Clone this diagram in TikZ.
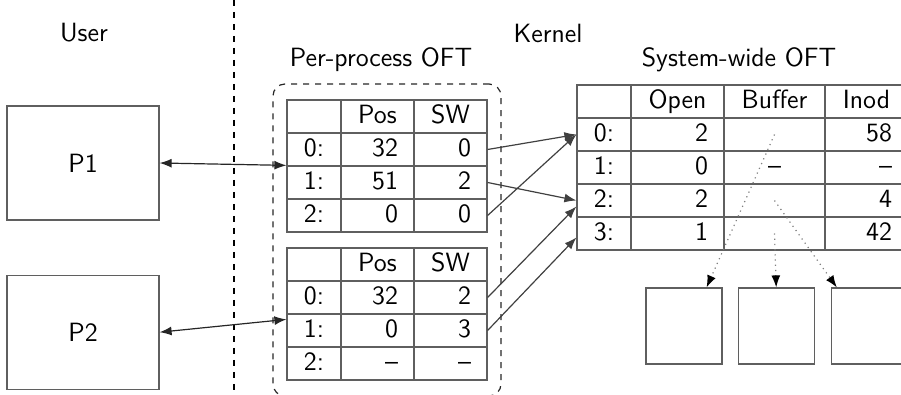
\documentclass[tikz,border=0pt]{standalone}
\usepackage{tikz}
\usetikzlibrary{arrows.meta,positioning,fit,matrix}
\definecolor{linegray}{RGB}{95,95,95}

\begin{document}
\begin{tikzpicture}[x=0.5pt, y=-0.5pt, font=\sffamily\fontsize{13.2}{16}\selectfont,
  oft/.style={matrix of nodes, nodes in empty cells, inner sep=0pt,
    column sep=-0.6pt, row sep=-0.6pt,
    nodes={draw=linegray, line width=0.6pt, minimum height=16.5pt, inner xsep=8pt,
      inner ysep=0pt, text height=9.3pt, text depth=2.7pt, align=right},
    column 1/.style={nodes={text width=11pt, align=center}},
    row 1/.style={nodes={align=center}}},
  proc/.style={draw=linegray, line width=0.6pt, minimum width=76pt, minimum height=57pt},
  bufbox/.style={draw=linegray, line width=0.6pt, minimum size=38pt},
  biarr/.style={{Latex[length=6pt,width=4.5pt]}-{Latex[length=6pt,width=4.5pt]}, draw=black!85, semithick},
  farr/.style={-{Latex[length=6pt,width=4.5pt]}, draw=black!75, semithick},
  barr/.style={-{Latex[length=6pt,width=4.5pt,color=black]}, draw=gray, dotted, semithick}
]
\useasboundingbox (0,0) rectangle (901,395);
\clip (0,0) rectangle (901,395);

% user / kernel split
\draw[dashed, semithick] (234,0) -- (234,395);
\node (user) at (84,33) {User};
\node (kernel) at (548,33) {Kernel};

% processes
\node[proc] (P1) at (83,163) {P1};
\node[proc, below=27pt of P1] (P2) {P2};

% per-process tables
\matrix[oft, anchor=north west,
  column 2/.style={nodes={text width=20.5pt}},
  column 3/.style={nodes={text width=20.5pt}}] (ppA) at (286,99) {
     & Pos & SW \\
  0: & 32  & 0  \\
  1: & 51  & 2  \\
  2: & 0   & 0  \\
};
\matrix[oft, anchor=north west,
  column 2/.style={nodes={text width=20.5pt}},
  column 3/.style={nodes={text width=20.5pt}}] (ppB) at (286,247) {
     & Pos & SW \\
  0: & 32  & 2  \\
  1: & 0   & 3  \\
  2: & --  & -- \\
};
\node[fit=(ppA)(ppB), draw=black!85, dashed, semithick, rounded corners=6pt,
  inner xsep=6.5pt, inner ysep=7.5pt] (pp) {};
\node (pplabel) at (381,60) {Per-process OFT};

% system-wide table
\matrix[oft, anchor=north west,
  column 2/.style={nodes={text width=30.5pt}},
  column 3/.style={nodes={text width=34.5pt, align=center}},
  column 4/.style={nodes={text width=25.5pt}}] (sys) at (576,84) {
     & Open & Buffer & Inod \\
  0: & 2    &        & 58   \\
  1: & 0    & --     & --   \\
  2: & 2    &        & 4    \\
  3: & 1    &        & 42   \\
};
\node (swlabel) at (739,60) {System-wide OFT};

% buffers
\node[bufbox] (bx1) at (684,326) {};
\node[bufbox, right=7.5pt of bx1] (bx2) {};
\node[bufbox, right=8pt of bx2] (bx3) {};

% process <-> descriptor table
\draw[biarr] (P1.east) -- (ppA-3-1.north west);
\draw[biarr] (P2.east) -- ([yshift=-3pt]ppB-3-1.north west);

% descriptors -> open files
\draw[farr] (ppA-2-3.east) -- (sys-2-1.west);
\draw[farr] (ppA-3-3.east) -- (sys-4-1.west);
\draw[farr] (ppA-4-3.east) -- (sys-2-1.west);
\draw[farr] (ppB-2-3.east) -- ([yshift=-3pt]sys-4-1.west);
\draw[farr] (ppB-3-3.east) -- ([yshift=-2pt]sys-5-1.west);

% open files -> buffers
\draw[barr] (sys-2-3.center) -- ([xshift=-8pt]bx1.north east);
\draw[barr] (sys-4-3.center) -- ([xshift=3pt]bx3.north west);
\draw[barr] (sys-5-3.center) -- (bx2.north);
\end{tikzpicture}
\end{document}
